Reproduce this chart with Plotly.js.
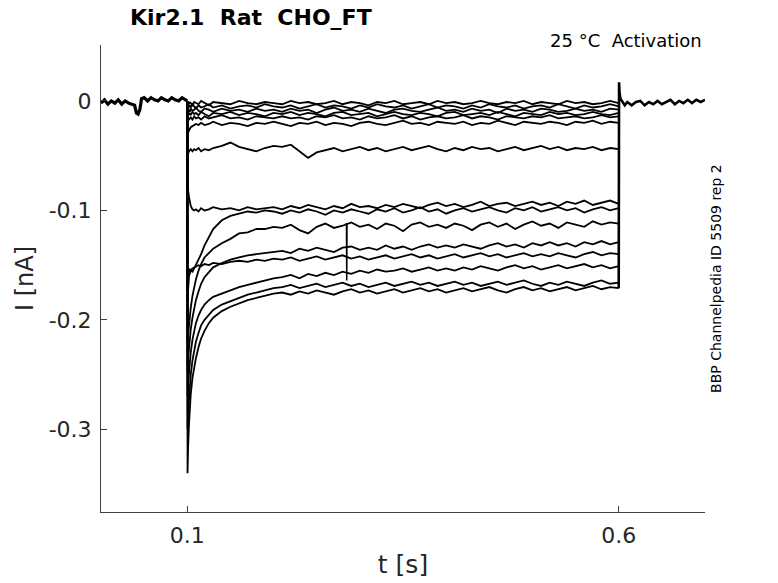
<!DOCTYPE html>
<html>
<head>
<meta charset="utf-8">
<script src="https://cdn.plot.ly/plotly-3.0.1.min.js"></script>
<style>
  html, body { margin: 0; padding: 0; background: #fff; }
  #chart { width: 778px; height: 583px; }
</style>
</head>
<body>
<div id="chart"></div>
<script>
// ── Holding phase (all sweeps overlap here) ───────────────────────────────
const tHold = [0, 0.004, 0.008, 0.012, 0.016, 0.02, 0.024, 0.028, 0.032, 0.036,
  0.039, 0.041, 0.043, 0.045, 0.047, 0.05, 0.054, 0.058, 0.062, 0.066,
  0.07, 0.074, 0.078, 0.082, 0.086, 0.09, 0.094, 0.098, 0.1];
const iHold = [-0.002, 0.001, -0.003, 0.000, -0.002, 0.001, -0.003, 0.000, -0.002, -0.003,
  -0.004, -0.011, -0.012, -0.008, 0.002, 0.003, 0.000, 0.003, 0.001, 0.000,
  0.003, 0.001, 0.000, 0.003, 0.001, 0.000, 0.003, 0.001, 0.000];

// ── Test pulse, sample times [s] ──────────────────────────────────────────
const tStep = [0.1, 0.1003, 0.101, 0.102, 0.103, 0.104, 0.106, 0.108, 0.11, 0.113, 0.116,
  0.12, 0.125, 0.13, 0.14, 0.15, 0.16, 0.17, 0.18, 0.19, 0.2,
  0.21, 0.22, 0.23, 0.24, 0.25, 0.26, 0.27, 0.28, 0.29, 0.3,
  0.31, 0.32, 0.33, 0.34, 0.35, 0.36, 0.37, 0.38, 0.39, 0.4,
  0.41, 0.42, 0.43, 0.44, 0.45, 0.46, 0.47, 0.48, 0.49, 0.5,
  0.51, 0.52, 0.53, 0.54, 0.55, 0.56, 0.57, 0.58, 0.59, 0.6];

// current [nA] of every sweep during the pulse
const iSweep01 = [0, -0.004, -0.002, -0.003, -0.001, -0.002, -0.004, -0.001, -0.002, -0.003, 0.000,
  -0.002, -0.004, -0.001, -0.002, -0.003, 0.000, -0.002, -0.003, -0.001, -0.002,
  -0.003, 0.000, -0.002, -0.001, -0.003, -0.002, 0.000, -0.003, -0.001, -0.002,
  -0.004, -0.001, -0.002, 0.000, -0.003, -0.002, -0.001, -0.003, 0.000, -0.002,
  -0.001, -0.003, -0.002, 0.000, -0.002, -0.003, -0.001, -0.002, 0.000, -0.003,
  -0.001, -0.002, -0.003, 0.000, -0.002, -0.001, -0.003, -0.002, 0.000, -0.002];
const iSweep02 = [0, -0.007, -0.005, -0.006, -0.004, -0.006, -0.003, -0.005, -0.007, -0.004, -0.006,
  -0.005, -0.003, -0.006, -0.004, -0.007, -0.005, -0.004, -0.006, -0.003, -0.005,
  -0.006, -0.004, -0.007, -0.005, -0.003, -0.006, -0.004, -0.005, -0.007, -0.004,
  -0.006, -0.003, -0.005, -0.006, -0.004, -0.007, -0.005, -0.003, -0.006, -0.004,
  -0.005, -0.007, -0.004, -0.006, -0.003, -0.005, -0.006, -0.004, -0.007, -0.005,
  -0.004, -0.006, -0.003, -0.005, -0.007, -0.004, -0.006, -0.005, -0.003, -0.005];
const iSweep03 = [0, -0.011, -0.009, -0.008, -0.010, -0.007, -0.009, -0.008, -0.006, -0.009, -0.010,
  -0.007, -0.008, -0.010, -0.007, -0.009, -0.008, -0.010, -0.007, -0.009, -0.008,
  -0.010, -0.007, -0.009, -0.008, -0.011, -0.008, -0.006, -0.009, -0.008, -0.010,
  -0.007, -0.009, -0.011, -0.008, -0.007, -0.009, -0.010, -0.008, -0.006, -0.009,
  -0.008, -0.010, -0.007, -0.009, -0.008, -0.011, -0.007, -0.009, -0.008, -0.010,
  -0.007, -0.008, -0.010, -0.009, -0.007, -0.009, -0.008, -0.010, -0.007, -0.008];
const iSweep04 = [0, -0.015, -0.013, -0.012, -0.011, -0.013, -0.010, -0.012, -0.011, -0.013, -0.010,
  -0.012, -0.014, -0.011, -0.012, -0.010, -0.013, -0.011, -0.012, -0.014, -0.011,
  -0.012, -0.010, -0.013, -0.011, -0.012, -0.014, -0.011, -0.010, -0.013, -0.012,
  -0.011, -0.014, -0.012, -0.010, -0.012, -0.013, -0.011, -0.012, -0.014, -0.011,
  -0.010, -0.013, -0.012, -0.011, -0.013, -0.010, -0.012, -0.014, -0.011, -0.012,
  -0.013, -0.010, -0.012, -0.011, -0.013, -0.012, -0.010, -0.012, -0.013, -0.011];
const iSweep05 = [0, -0.020, -0.018, -0.017, -0.016, -0.015, -0.017, -0.014, -0.016, -0.015, -0.017,
  -0.014, -0.016, -0.015, -0.013, -0.016, -0.015, -0.017, -0.014, -0.015, -0.016,
  -0.014, -0.016, -0.015, -0.017, -0.014, -0.015, -0.013, -0.016, -0.015, -0.017,
  -0.014, -0.016, -0.015, -0.013, -0.016, -0.014, -0.017, -0.015, -0.014, -0.016,
  -0.015, -0.013, -0.016, -0.014, -0.015, -0.017, -0.014, -0.015, -0.016, -0.014,
  -0.015, -0.013, -0.016, -0.015, -0.014, -0.016, -0.015, -0.013, -0.015, -0.014];
const iSweep06 = [0, -0.031, -0.029, -0.027, -0.025, -0.024, -0.023, -0.022, -0.021, -0.022, -0.020,
  -0.022, -0.021, -0.019, -0.022, -0.020, -0.021, -0.023, -0.020, -0.021, -0.019,
  -0.021, -0.023, -0.020, -0.021, -0.019, -0.022, -0.020, -0.021, -0.023, -0.020,
  -0.019, -0.021, -0.022, -0.020, -0.018, -0.021, -0.020, -0.022, -0.019, -0.020,
  -0.021, -0.019, -0.022, -0.020, -0.021, -0.018, -0.020, -0.022, -0.019, -0.020,
  -0.021, -0.019, -0.020, -0.022, -0.019, -0.020, -0.018, -0.021, -0.019, -0.020];
const iSweep07 = [0, -0.052, -0.048, -0.046, -0.045, -0.044, -0.046, -0.044, -0.045, -0.043, -0.046,
  -0.044, -0.045, -0.043, -0.041, -0.038, -0.042, -0.044, -0.046, -0.043, -0.041,
  -0.042, -0.040, -0.046, -0.052, -0.047, -0.045, -0.043, -0.046, -0.044, -0.042,
  -0.045, -0.043, -0.046, -0.044, -0.042, -0.045, -0.043, -0.041, -0.044, -0.046,
  -0.043, -0.045, -0.042, -0.044, -0.043, -0.046, -0.044, -0.042, -0.045, -0.043,
  -0.041, -0.044, -0.042, -0.045, -0.043, -0.044, -0.042, -0.045, -0.043, -0.044];
const iSweep08 = [0, -0.078, -0.082, -0.088, -0.093, -0.096, -0.099, -0.100, -0.099, -0.101, -0.098,
  -0.100, -0.099, -0.097, -0.099, -0.098, -0.100, -0.097, -0.099, -0.098, -0.097,
  -0.099, -0.096, -0.098, -0.095, -0.097, -0.099, -0.096, -0.098, -0.094, -0.097,
  -0.096, -0.098, -0.095, -0.097, -0.094, -0.096, -0.098, -0.095, -0.093, -0.096,
  -0.094, -0.097, -0.095, -0.092, -0.096, -0.094, -0.093, -0.096, -0.094, -0.092,
  -0.095, -0.093, -0.096, -0.092, -0.094, -0.091, -0.095, -0.093, -0.091, -0.094];
const iSweep09 = [0, -0.170, -0.160, -0.155, -0.154, -0.155, -0.156, -0.153, -0.150, -0.145, -0.140,
  -0.132, -0.124, -0.117, -0.109, -0.105, -0.103, -0.101, -0.102, -0.100, -0.101,
  -0.103, -0.100, -0.102, -0.099, -0.101, -0.104, -0.100, -0.102, -0.099, -0.101,
  -0.103, -0.099, -0.101, -0.098, -0.102, -0.100, -0.097, -0.101, -0.099, -0.103,
  -0.100, -0.098, -0.101, -0.099, -0.097, -0.100, -0.102, -0.098, -0.100, -0.097,
  -0.101, -0.099, -0.097, -0.100, -0.098, -0.102, -0.099, -0.097, -0.100, -0.098];
const iSweep10 = [0, -0.220, -0.214, -0.205, -0.196, -0.189, -0.178, -0.170, -0.163, -0.155, -0.149,
  -0.143, -0.139, -0.135, -0.130, -0.126, -0.121, -0.120, -0.117, -0.117, -0.115,
  -0.116, -0.113, -0.118, -0.121, -0.115, -0.112, -0.116, -0.114, -0.111, -0.115,
  -0.113, -0.117, -0.112, -0.114, -0.119, -0.113, -0.111, -0.115, -0.113, -0.116,
  -0.112, -0.114, -0.118, -0.113, -0.111, -0.115, -0.112, -0.117, -0.113, -0.110,
  -0.114, -0.112, -0.116, -0.111, -0.113, -0.115, -0.110, -0.113, -0.111, -0.112];
const iSweep11 = [0, -0.245, -0.236, -0.226, -0.217, -0.209, -0.198, -0.190, -0.182, -0.174, -0.167,
  -0.161, -0.156, -0.152, -0.148, -0.145, -0.143, -0.141, -0.140, -0.139, -0.138,
  -0.137, -0.139, -0.135, -0.137, -0.134, -0.136, -0.138, -0.134, -0.133, -0.136,
  -0.134, -0.136, -0.132, -0.135, -0.133, -0.136, -0.133, -0.131, -0.134, -0.132,
  -0.134, -0.131, -0.133, -0.135, -0.132, -0.130, -0.133, -0.131, -0.134, -0.130,
  -0.132, -0.129, -0.132, -0.130, -0.133, -0.129, -0.131, -0.128, -0.131, -0.129];
const iSweep12 = [0, -0.200, -0.172, -0.160, -0.156, -0.155, -0.153, -0.152, -0.151, -0.150, -0.151,
  -0.149, -0.150, -0.148, -0.149, -0.147, -0.146, -0.147, -0.145, -0.146, -0.144,
  -0.145, -0.143, -0.146, -0.144, -0.142, -0.145, -0.143, -0.141, -0.144, -0.142,
  -0.145, -0.143, -0.141, -0.144, -0.142, -0.140, -0.143, -0.141, -0.144, -0.142,
  -0.140, -0.143, -0.141, -0.139, -0.142, -0.140, -0.143, -0.141, -0.139, -0.142,
  -0.140, -0.142, -0.139, -0.141, -0.143, -0.140, -0.138, -0.141, -0.139, -0.140];
const iSweep13 = [0, -0.270, -0.260, -0.248, -0.238, -0.230, -0.218, -0.210, -0.203, -0.196, -0.191,
  -0.186, -0.182, -0.179, -0.176, -0.173, -0.170, -0.168, -0.166, -0.164, -0.162,
  -0.161, -0.159, -0.162, -0.158, -0.160, -0.157, -0.159, -0.156, -0.158, -0.155,
  -0.157, -0.154, -0.156, -0.155, -0.153, -0.156, -0.154, -0.152, -0.155, -0.153,
  -0.155, -0.152, -0.154, -0.151, -0.153, -0.155, -0.152, -0.150, -0.153, -0.151,
  -0.154, -0.152, -0.150, -0.153, -0.151, -0.149, -0.152, -0.150, -0.153, -0.151];
const iSweep14 = [0, -0.300, -0.288, -0.272, -0.260, -0.250, -0.237, -0.228, -0.220, -0.212, -0.205,
  -0.200, -0.195, -0.191, -0.186, -0.183, -0.180, -0.177, -0.175, -0.173, -0.171,
  -0.170, -0.168, -0.171, -0.169, -0.167, -0.170, -0.168, -0.166, -0.169, -0.167,
  -0.170, -0.168, -0.166, -0.169, -0.167, -0.165, -0.168, -0.166, -0.169, -0.167,
  -0.165, -0.168, -0.166, -0.169, -0.167, -0.165, -0.168, -0.166, -0.164, -0.167,
  -0.169, -0.166, -0.168, -0.165, -0.167, -0.169, -0.166, -0.164, -0.167, -0.166];
const iSweep15 = [0, -0.340, -0.315, -0.295, -0.280, -0.268, -0.253, -0.243, -0.235, -0.225, -0.217,
  -0.210, -0.203, -0.198, -0.192, -0.188, -0.185, -0.182, -0.180, -0.178, -0.176,
  -0.175, -0.177, -0.174, -0.176, -0.173, -0.175, -0.177, -0.174, -0.172, -0.175,
  -0.173, -0.176, -0.174, -0.172, -0.175, -0.173, -0.171, -0.174, -0.172, -0.175,
  -0.173, -0.171, -0.174, -0.172, -0.170, -0.173, -0.175, -0.172, -0.170, -0.173,
  -0.171, -0.174, -0.172, -0.170, -0.173, -0.171, -0.169, -0.172, -0.170, -0.171];

// short artefact in one sweep near 0.285 s
const tGlitch = [0.2835, 0.2845, 0.2848, 0.2851, 0.286];
const iGlitch = [-0.113, -0.112, -0.164, -0.113, -0.113];

// ── Return to holding (tail + capacitive spike) ──────────────────────────
const tTail = [0.6, 0.6004, 0.601, 0.602, 0.604, 0.607, 0.61, 0.615, 0.62, 0.625,
  0.63, 0.635, 0.64, 0.645, 0.65, 0.655, 0.66, 0.665, 0.67, 0.675,
  0.68, 0.685, 0.69, 0.695, 0.7];
const iTail = [-0.171, 0.017, 0.007, 0.002, -0.001, -0.004, -0.001, -0.004, -0.001, 0.000,
  -0.004, -0.001, -0.003, 0.000, -0.003, -0.001, 0.001, -0.003, 0.000, -0.002,
  0.001, -0.002, 0.001, -0.001, 0.001];

const yTicks     = [0, -0.1, -0.2, -0.3];
const yTickText  = ['0', '-0.1', '-0.2', '-0.3'];
const xTicks     = [0.1, 0.6];
const xTickText  = ['0.1', '0.6'];

const sweeps = [iSweep01, iSweep02, iSweep03, iSweep04, iSweep05, iSweep06, iSweep07,
  iSweep08, iSweep09, iSweep10, iSweep11, iSweep12, iSweep13, iSweep14, iSweep15];

const FONT = 'DejaVu Sans, Verdana, sans-serif';
const INK  = '#262626';

const line = (w) => ({ color: '#000000', width: w });

const traces = [
  { x: tHold, y: iHold, mode: 'lines', line: line(3.2), hoverinfo: 'skip' },
  ...sweeps.map(y => ({ x: tStep, y, mode: 'lines', line: line(1.8), hoverinfo: 'skip' })),
  { x: tGlitch, y: iGlitch, mode: 'lines', line: line(1.5), hoverinfo: 'skip' },
  { x: tTail, y: iTail, mode: 'lines', line: line(2.6), hoverinfo: 'skip' }
];

const axisBase = {
  showline: true,
  linecolor: '#404040',
  linewidth: 1,
  ticks: 'inside',
  ticklen: 6,
  tickcolor: '#404040',
  showgrid: false,
  zeroline: false,
  tickfont: { family: FONT, size: 22, color: INK },
  fixedrange: true
};

const layout = {
  width: 778,
  height: 583,
  paper_bgcolor: '#ffffff',
  plot_bgcolor: '#ffffff',
  margin: { l: 101, r: 73, t: 45, b: 71 },
  showlegend: false,
  xaxis: Object.assign({}, axisBase, {
    range: [0, 0.7],
    tickvals: xTicks,
    ticktext: xTickText,
    ticklabelstandoff: 4,
    title: { text: 't [s]', font: { family: FONT, size: 25, color: INK }, standoff: 8 }
  }),
  yaxis: Object.assign({}, axisBase, {
    range: [-0.3755, 0.0511],
    tickvals: yTicks,
    ticktext: yTickText,
    ticklabelstandoff: 4,
    title: { text: 'I [nA]', font: { family: FONT, size: 24, color: INK }, standoff: 8 }
  }),
  annotations: [
    {
      text: '<b>Kir2.1\u00a0\u00a0Rat\u00a0\u00a0CHO_FT</b>',
      xref: 'paper', yref: 'paper', x: 0.0447, y: 1.058,
      xanchor: 'left', yanchor: 'middle', showarrow: false,
      font: { family: FONT, size: 22, color: '#000000' }
    },
    {
      text: '25 °C\u00a0\u00a0Activation',
      xref: 'paper', yref: 'paper', x: 0.998, y: 1.009,
      xanchor: 'right', yanchor: 'middle', showarrow: false,
      font: { family: FONT, size: 18, color: '#000000' }
    },
    {
      text: 'BBP Channelpedia ID 5509 rep 2',
      xref: 'paper', yref: 'paper', x: 1.018, y: 0.501,
      xanchor: 'center', yanchor: 'middle', showarrow: false, textangle: -90,
      font: { family: FONT, size: 14, color: '#000000' }
    }
  ]
};

Plotly.newPlot('chart', traces, layout, { displayModeBar: false, staticPlot: true });
</script>
</body>
</html>
